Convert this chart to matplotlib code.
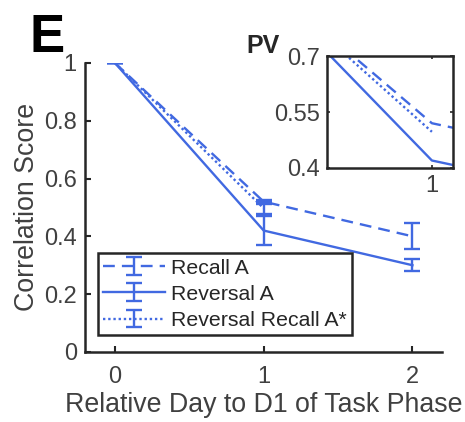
import matplotlib.pyplot as plt
from matplotlib.container import ErrorbarContainer
from matplotlib.legend_handler import HandlerErrorbar

plt.rcParams['font.family'] = ['Liberation Sans', 'DejaVu Sans']

days = [0, 1, 2]

recall_a = [1.0, 0.52, 0.40]
recall_a_err = [0.0, 0.007, 0.045]

reversal_a = [1.0, 0.42, 0.30]
reversal_a_err = [0.0, 0.05, 0.02]

rev_recall_days = [0, 1]
rev_recall_a = [1.0, 0.497]
rev_recall_a_err = [0.0, 0.02]

blue = '#4169E1'
gray = '#404040'
dark = '#262626'

fig = plt.figure(figsize=(4.65, 4.22), dpi=100)
ax = fig.add_axes([0.183, 0.166, 0.768, 0.685])

kw = dict(color=blue, lw=1.7, capsize=6, capthick=1.7, elinewidth=1.7)
ax.errorbar(days, recall_a, yerr=recall_a_err, ls=(0, (5, 3)), label='Recall A', **kw)
ax.errorbar(days, reversal_a, yerr=reversal_a_err, ls='-', label='Reversal A', **kw)
ax.errorbar(rev_recall_days, rev_recall_a, yerr=rev_recall_a_err, ls=(0, (1, 1.2)),
            label='Reversal Recall A*', **kw)

ax.set_xlim(-0.2, 2.2)
ax.set_ylim(0, 1)
ax.set_xticks([0, 1, 2])
ax.set_yticks([0, 0.2, 0.4, 0.6, 0.8, 1])
ax.set_yticklabels(['0', '0.2', '0.4', '0.6', '0.8', '1'])
ax.tick_params(direction='in', length=4, width=1.5, colors=dark, labelcolor=gray,
               labelsize=17, pad=6)
ax.tick_params(axis='x', pad=10)
for side in ['top', 'right']:
    ax.spines[side].set_visible(False)
for side in ['left', 'bottom']:
    ax.spines[side].set_linewidth(1.8)
    ax.spines[side].set_color(dark)
ax.set_xlabel('Relative Day to D1 of Task Phase', fontsize=19.3, color=gray, labelpad=3)
ax.set_ylabel('Correlation Score', fontsize=19.3, color=gray, labelpad=3)

leg = ax.legend(loc='upper left', bbox_to_anchor=(0.211, 0.4),
                bbox_transform=fig.transFigure, borderaxespad=0, fontsize=15.3,
                handlelength=2.9, handletextpad=0.3, labelspacing=0.34,
                borderpad=0.25, fancybox=False, framealpha=1,
                handler_map={ErrorbarContainer: HandlerErrorbar(yerr_size=0.42)})
leg.get_frame().set_edgecolor(dark)
leg.get_frame().set_linewidth(1.8)
for t in leg.get_texts():
    t.set_color(dark)

# zoomed view around day 1
ins = fig.add_axes([0.703, 0.602, 0.271, 0.265])
ins.plot(days, recall_a, color=blue, lw=1.7, ls=(0, (5, 3)))
ins.plot(days, reversal_a, color=blue, lw=1.7, ls='-')
ins.plot(rev_recall_days, rev_recall_a, color=blue, lw=1.7, ls=(0, (1, 1.2)))
ins.set_xlim(0.5, 1.1)
ins.set_ylim(0.4, 0.7)
ins.set_xticks([1])
ins.set_yticks([0.4, 0.55, 0.7])
ins.set_yticklabels(['0.4', '0.55', '0.7'])
ins.tick_params(direction='in', length=2, width=1.2, colors=dark, labelcolor=gray,
                labelsize=17, top=True, right=True, pad=5)
for s in ins.spines.values():
    s.set_linewidth(1.8)
    s.set_color(dark)

fig.text(0.063, 0.877, 'E', fontsize=38, fontweight='bold', va='baseline')
fig.text(0.529, 0.874, 'PV', fontsize=18, fontweight='bold', va='baseline', color=dark)

fig.savefig('out.png', dpi=100)
